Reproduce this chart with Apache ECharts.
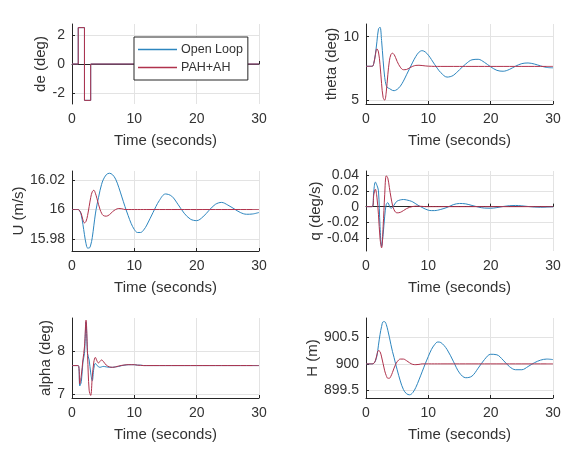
<!DOCTYPE html>
<html>
<head>
<meta charset="utf-8">
<script src="https://cdn.jsdelivr.net/npm/echarts@6/dist/echarts.min.js"></script>
<style>
  html, body { margin: 0; padding: 0; background: #fff; }
  #chart { width: 571px; height: 449px; }
</style>
</head>
<body>
<div id="chart"></div>
<script>
// elevator input (held between samples)
var deTime = [0, 1, 2, 3, 30];
var deOpen = [0, 2.5, -2.5, 0, 0];
var dePah = [0, 2.5, -2.5, 0, 0];

// sample times for the responses
var time = [0, 1,
  1.25, 1.5, 1.75, 2, 2.25, 2.5, 2.75, 3, 3.25, 3.5, 3.75, 4, 4.25, 4.5, 4.75, 5,
  5.5, 6, 6.5, 7, 7.5, 8, 8.5, 9, 9.5, 10, 10.5, 11, 11.5, 12,
  13, 14, 15, 16, 17, 18, 19, 20, 21, 22, 23, 24, 25, 26, 27, 28, 29, 30];

var thetaOpen = [7.67, 7.67,
  7.9, 8.6, 9.6, 10.6, 10.75, 9.7, 8.1, 6.8, 6.15, 5.97, 5.92, 5.84, 5.77, 5.75, 5.78, 5.85,
  6.1, 6.5, 7.0, 7.5, 8.0, 8.45, 8.78, 8.9, 8.8, 8.55, 8.2, 7.82, 7.47, 7.17,
  6.82, 6.95, 7.4, 7.85, 8.18, 8.22, 7.98, 7.63, 7.35, 7.28, 7.42, 7.68, 7.88, 7.93, 7.85, 7.7, 7.58, 7.55];
var thetaPah = [7.67, 7.67,
  7.9, 8.55, 9.05, 8.8, 7.8, 6.3, 5.2, 5.0, 5.65, 7.0, 8.1, 8.6, 8.7, 8.6, 8.35, 8.05,
  7.6, 7.4, 7.42, 7.55, 7.67, 7.74, 7.75, 7.73, 7.7, 7.68, 7.67, 7.66, 7.66, 7.66,
  7.66, 7.66, 7.66, 7.66, 7.66, 7.66, 7.66, 7.66, 7.66, 7.66, 7.66, 7.66, 7.66, 7.66, 7.66, 7.66, 7.66, 7.66];

var uOpen = [16, 16,
  15.999, 15.996, 15.99, 15.983, 15.977, 15.974, 15.974, 15.976, 15.981, 15.989, 15.997, 16.003, 16.008, 16.013, 16.017, 16.02,
  16.0235, 16.0245, 16.0235, 16.0205, 16.015, 16.0085, 16.002, 15.996, 15.9905, 15.9865, 15.9845, 15.9845, 15.9862, 15.9895,
  15.998, 16.006, 16.0105, 16.009, 16.0035, 15.9975, 15.9935, 15.9925, 15.995, 15.9995, 16.0035, 16.0048, 16.003, 16.0005, 15.998, 15.9968, 15.997, 15.998];
var uPah = [16, 16,
  15.999, 15.997, 15.993, 15.991, 15.992, 15.996, 16.002, 16.008, 16.012, 16.013, 16.011, 16.0075, 16.0035, 16.0, 15.9975, 15.996,
  15.9955, 15.9965, 15.9985, 16.0, 16.0007, 16.0005, 16.0, 16, 16, 16, 16, 16, 16, 16,
  16, 16, 16, 16, 16, 16, 16, 16, 16, 16, 16, 16, 16, 16, 16, 16, 16, 16];

var qOpen = [0, 0,
  0.02, 0.031, 0.027, 0.02, -0.025, -0.05, -0.035, -0.012, 0.003, 0.005, 0.001, -0.002, -0.001, 0.002, 0.005, 0.007,
  0.0085, 0.009, 0.0085, 0.0075, 0.006, 0.0035, 0.001, -0.001, -0.003, -0.0045, -0.005, -0.005, -0.0045, -0.0035,
  -0.001, 0.0025, 0.004, 0.0035, 0.0015, -0.0005, -0.0018, -0.002, -0.0012, 0.0002, 0.0012, 0.0015, 0.001, 0.0002, -0.0005, -0.0008, -0.0006, -0.0003];
var qPah = [0, 0,
  0.015, 0.022, 0.012, -0.01, -0.04, -0.052, -0.025, 0.015, 0.039, 0.036, 0.024, 0.012, 0.002, -0.004, -0.007, -0.0078,
  -0.0072, -0.005, -0.0025, -0.0008, 0.0002, 0.0006, 0.0005, 0.0003, 0, 0, 0, 0, 0, 0,
  0, 0, 0, 0, 0, 0, 0, 0, 0, 0, 0, 0, 0, 0, 0, 0, 0, 0];

var alphaOpen = [7.67, 7.67,
  7.2, 7.3, 7.75, 7.95, 8.68, 7.95, 7.8, 7.5, 7.32, 7.6, 7.72, 7.68, 7.64, 7.63, 7.64, 7.65,
  7.64, 7.63, 7.63, 7.64, 7.65, 7.67, 7.68, 7.69, 7.69, 7.69, 7.68, 7.68, 7.67, 7.67,
  7.67, 7.67, 7.67, 7.67, 7.67, 7.67, 7.67, 7.67, 7.67, 7.67, 7.67, 7.67, 7.67, 7.67, 7.67, 7.67, 7.67, 7.67];
var alphaPah = [7.67, 7.67,
  7.25, 7.45, 7.8, 8.1, 8.72, 7.9, 7.1, 6.98, 7.4, 7.75, 7.86, 7.78, 7.73, 7.77, 7.8, 7.77,
  7.68, 7.64, 7.63, 7.64, 7.66, 7.675, 7.685, 7.69, 7.69, 7.69, 7.68, 7.675, 7.67, 7.67,
  7.67, 7.67, 7.67, 7.67, 7.67, 7.67, 7.67, 7.67, 7.67, 7.67, 7.67, 7.67, 7.67, 7.67, 7.67, 7.67, 7.67, 7.67];

var hOpen = [900, 900,
  900.01, 900.05, 900.15, 900.35, 900.55, 900.7, 900.79, 900.79, 900.74, 900.63, 900.5, 900.36, 900.23, 900.12, 900.0, 899.89,
  899.68, 899.52, 899.44, 899.42, 899.46, 899.56, 899.7, 899.85, 900.0, 900.14, 900.27, 900.36, 900.41, 900.4,
  900.27, 900.05, 899.83, 899.74, 899.77, 899.92, 900.08, 900.18, 900.17, 900.07, 899.95, 899.89, 899.89, 899.95, 900.02, 900.07, 900.09, 900.08];
var hPah = [900, 900,
  900.01, 900.06, 900.17, 900.25, 900.23, 900.13, 900.0, 899.87, 899.78, 899.73, 899.73, 899.77, 899.84, 899.92, 899.99, 900.04,
  900.09, 900.09, 900.06, 900.02, 899.99, 899.985, 899.99, 900, 900, 900, 900, 900, 900, 900,
  900, 900, 900, 900, 900, 900, 900, 900, 900, 900, 900, 900, 900, 900, 900, 900, 900, 900];

var xTicks = [0, 10, 20, 30];
var seriesNames = ['Open Loop', 'PAH+AH'];

var blue = '#2d86bf';
var red = '#b0324c';
var textColor = '#333333';
var font = 'Liberation Sans, Arial, sans-serif';

function pairs(t, v) {
  return t.map(function (x, i) { return [x, v[i]]; });
}

function trim(v) {
  return String(parseFloat(v.toFixed(4)));
}

// one panel per entry: grid box, y label, y range, y ticks
var panels = [
  { box: [72, 24], name: 'de (deg)', min: -2.75, max: 2.75, ticks: [-2, 0, 2], gap: 22, open: pairs(deTime, deOpen), pah: pairs(deTime, dePah), step: true },
  { box: [366, 24], name: 'theta (deg)', min: 4.7, max: 11.0, ticks: [5, 10], gap: 25, open: pairs(time, thetaOpen), pah: pairs(time, thetaPah) },
  { box: [72, 171], name: 'U (m/s)', min: 15.972, max: 16.026, ticks: [15.98, 16, 16.02], gap: 45, open: pairs(time, uOpen), pah: pairs(time, uPah) },
  { box: [366, 171], name: 'q (deg/s)', min: -0.056, max: 0.045, ticks: [-0.04, -0.02, 0, 0.02, 0.04], gap: 38, open: pairs(time, qOpen), pah: pairs(time, qPah) },
  { box: [72, 318], name: 'alpha (deg)', min: 6.92, max: 8.77, ticks: [7, 8], gap: 18, open: pairs(time, alphaOpen), pah: pairs(time, alphaPah) },
  { box: [366, 318], name: 'H (m)', min: 899.36, max: 900.86, ticks: [899.5, 900, 900.5], gap: 45, open: pairs(time, hOpen), pah: pairs(time, hPah) }
];

var grid = [], xAxis = [], yAxis = [], series = [];
panels.forEach(function (p, i) {
  grid.push({ left: p.box[0], top: p.box[1], width: 187, height: 80 });
  xAxis.push({
    gridIndex: i, type: 'value', min: 0, max: 30, interval: 10,
    name: 'Time (seconds)', nameLocation: 'middle', nameGap: 29,
    nameTextStyle: { color: textColor, fontSize: 15, fontFamily: font },
    axisLine: { lineStyle: { color: '#262626', width: 1 } },
    axisTick: { inside: true, length: 3, lineStyle: { color: '#262626' } },
    axisLabel: { color: textColor, fontSize: 14, fontFamily: font, margin: 8 },
    splitLine: { show: true, lineStyle: { color: '#e3e3e3', width: 1 } }
  });
  yAxis.push({
    gridIndex: i, type: 'value', min: p.min, max: p.max,
    name: p.name, nameLocation: 'middle', nameRotate: 90, nameGap: p.gap,
    nameTextStyle: { color: textColor, fontSize: 15, fontFamily: font },
    axisLine: { show: true, lineStyle: { color: '#262626', width: 1 } },
    axisTick: { show: true, inside: true, length: 3, customValues: p.ticks, lineStyle: { color: '#262626' } },
    axisLabel: { color: textColor, fontSize: 14, fontFamily: font, margin: 7, customValues: p.ticks, formatter: trim },
    splitLine: { show: true, lineStyle: { color: '#e3e3e3', width: 1 } }
  });
  [p.open, p.pah].forEach(function (d, k) {
    series.push({
      name: seriesNames[k], type: 'line', xAxisIndex: i, yAxisIndex: i,
      data: d, symbol: 'none', smooth: p.step ? false : 0.35,
      step: p.step ? 'end' : false,
      lineStyle: { color: k === 0 ? blue : red, width: 1 },
      itemStyle: { color: k === 0 ? blue : red },
      animation: false
    });
  });
});

var chart = echarts.init(document.getElementById('chart'));
chart.setOption({
  backgroundColor: '#fff',
  animation: false,
  grid: grid,
  xAxis: xAxis,
  yAxis: yAxis,
  legend: {
    data: seriesNames,
    orient: 'vertical',
    left: 134, top: 37,
    padding: [6, 5, 6, 4],
    icon: 'rect',
    itemWidth: 39, itemHeight: 1.5, itemGap: 5,
    backgroundColor: '#fff',
    borderColor: '#262626', borderWidth: 1, borderRadius: 0,
    textStyle: { color: textColor, fontSize: 12.5, fontFamily: font, padding: [0, 0, 0, -1] }
  },
  series: series
});
</script>
</body>
</html>
